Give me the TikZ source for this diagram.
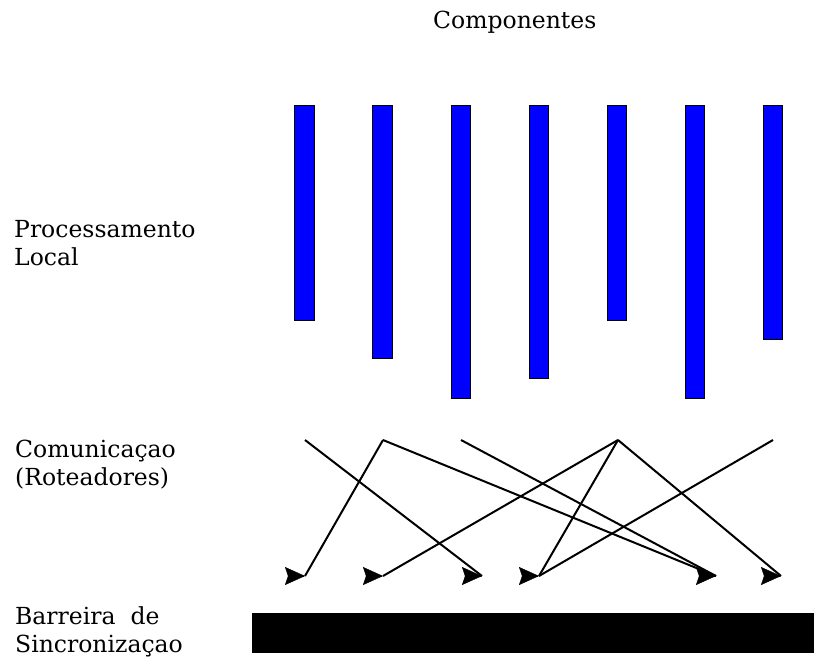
\documentclass[tikz,border=0pt]{standalone}
\usepackage{fontspec}
\setmainfont{DejaVu Serif}
\usetikzlibrary{positioning, calc}
\usetikzlibrary{arrows.meta}

\tikzset{
  bar/.style = {draw = black, line width = 0.6pt, fill = blue},
  barrier/.style = {fill = black},
  link/.style = {line width = 2pt},
  head/.style = {-{Stealth[length = 20pt, width = 18pt, inset = 3pt]}},
  label/.style = {anchor = base west, align = left, inner sep = 0pt,
                  font = \fontsize{23.5}{28}\selectfont}
}

\begin{document}
\begin{tikzpicture}[x = 1pt, y = -1pt]
                \useasboundingbox (0,0) rectangle (814,657);
                % titulos
                \node[label] (comp) at (433,28) {Componentes};
                \node[label] (proc) at (14,265) {Processamento\\Local};
                \node[label] (com) at (15,485) {Comunicaçao\\(Roteadores)};
                \node[label] (barr) at (15,652) {Barreira~~de\\Sincronizaçao};
                % componentes
                \draw[bar] (294,105) rectangle (314,320);
                \draw[bar] (372,105) rectangle (392,358);
                \draw[bar] (451,105) rectangle (470,398);
                \draw[bar] (529,105) rectangle (548,378);
                \draw[bar] (607,105) rectangle (626,320);
                \draw[bar] (685,105) rectangle (704,398);
                \draw[bar] (763,105) rectangle (782,339);
                % barreira
                \fill[barrier] (252,613) rectangle (814,653);
                % roteadores
                \coordinate (t1) at (305,440);
                \coordinate (t2) at (383,440);
                \coordinate (t3) at (461,440);
                \coordinate (t5) at (618,440);
                \coordinate (t7) at (773,440);
                \coordinate (e1) at (305,576);
                \coordinate (e2) at (383,576);
                \coordinate (e3) at (482,576);
                \coordinate (e4) at (539,576);
                \coordinate (e5) at (716,576);
                \coordinate (e6) at (781,576);
                \draw[link] (t1) -- (e3);
                \draw[link] (t2) -- (e1);
                \draw[link] (t2) -- (e5);
                \draw[link] (t3) -- (e5);
                \draw[link] (t5) -- (e2);
                \draw[link] (t5) -- (e4);
                \draw[link] (t5) -- (e6);
                \draw[link] (t7) -- (e4);
                \draw[head] ($(e1)-(1,0)$) -- (e1);
                \draw[head] ($(e2)-(1,0)$) -- (e2);
                \draw[head] ($(e3)-(1,0)$) -- (e3);
                \draw[head] ($(e4)-(1,0)$) -- (e4);
                \draw[head] ($(e5)-(1,0)$) -- (e5);
                \draw[head] ($(e6)-(1,0)$) -- (e6);
\end{tikzpicture}
\end{document}
